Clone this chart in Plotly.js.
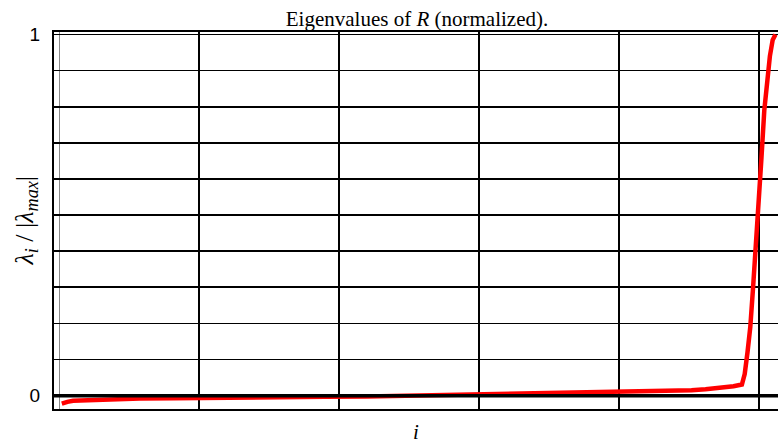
<!DOCTYPE html>
<html>
<head>
<meta charset="utf-8">
<script src="https://cdn.plot.ly/plotly-3.0.1.min.js"></script>
<style>
  html, body { margin: 0; padding: 0; overflow: hidden; background: #fff; }
  #chart { width: 778px; height: 444px; }
</style>
</head>
<body>
<div id="chart"></div>
<script>
// Sorted eigenvalues of R, each divided by |lambda_max|
const eigIndex = [1, 2, 3, 5, 8, 12, 17, 29, 41, 65, 86, 95, 110, 125, 140, 160, 180, 195, 200, 212,
                  221, 226, 231, 235, 238, 241, 244, 245, 246, 247, 248, 249, 250, 251, 252, 253, 254, 255, 256];
const eigNorm  = [-0.022, -0.019, -0.017, -0.014, -0.013, -0.012, -0.010, -0.008, -0.007, -0.004, -0.004, -0.003, -0.002, 0.000,
                  0.003, 0.005, 0.007, 0.009, 0.010, 0.011, 0.013, 0.015, 0.018, 0.020, 0.022, 0.026, 0.031,
                  0.06, 0.12, 0.19, 0.30, 0.41, 0.53, 0.66, 0.79, 0.88, 0.94, 0.985, 1.0];

// Labelled y ticks at the ends, with a grid line every 0.1; x grid every 50
const yTickVals = [0, 1];
const yTickText = ['0', '1'];
const yGridStep = 0.1;
const xTickVals = [50, 100, 150, 200, 250];
const xEdgeGrid = [0];

const trace = {
  x: eigIndex,
  y: eigNorm,
  type: 'scatter',
  mode: 'lines',
  line: { color: '#ff0000', width: 4.5 },
  hoverinfo: 'skip'
};

const serif = 'Liberation Serif, DejaVu Serif, serif';

const layout = {
  width: 778,
  height: 444,
  margin: { l: 54, r: 0, t: 32, b: 35 },
  paper_bgcolor: '#ffffff',
  plot_bgcolor: '#ffffff',
  showlegend: false,
  title: {
    text: 'Eigenvalues of <i>R</i> (normalized).',
    font: { family: serif, size: 21, color: '#000' },
    x: 0.536, xanchor: 'center', xref: 'container',
    y: 0.958, yanchor: 'middle', yref: 'container'
  },
  xaxis: {
    range: [-1.79, 256.9],
    tickvals: xTickVals,
    showticklabels: false,
    ticks: '',
    showgrid: true,
    gridcolor: '#000',
    gridwidth: 1.7,
    minor: { tickvals: xEdgeGrid, showgrid: true, gridcolor: '#8a8a8a', gridwidth: 1, ticks: '' },
    zeroline: false,
    showline: true,
    linecolor: '#000',
    linewidth: 2,
    mirror: true,
    title: {
      text: '<i>i</i>',
      font: { family: serif, size: 21, color: '#000' },
      standoff: 14
    }
  },
  yaxis: {
    range: [-0.0369, 1.007],
    tickvals: yTickVals,
    ticktext: yTickText,
    ticks: '',
    ticklabelstandoff: 8,
    tickfont: { family: 'Liberation Sans, Arial, sans-serif', size: 19, color: '#000' },
    showgrid: true,
    gridcolor: '#000',
    gridwidth: 1.7,
    minor: { dtick: yGridStep, tick0: 0, showgrid: true, gridcolor: '#000', gridwidth: 1.7, ticks: '' },
    zeroline: false,
    showline: true,
    linecolor: '#000',
    linewidth: 2,
    mirror: false
  },
  annotations: [
    {
      text: '<i>λ<sub>i</sub></i> / |<i>λ<sub>max</sub></i>|',
      font: { family: serif, size: 26, color: '#000' },
      textangle: -90,
      xref: 'paper', yref: 'paper',
      x: -0.04, y: 0.5,
      xanchor: 'center', yanchor: 'middle',
      showarrow: false
    }
  ],
  shapes: [
    {
      type: 'line', xref: 'paper', yref: 'y',
      x0: 0, x1: 1, y0: 0, y1: 0,
      line: { color: '#000', width: 3.5 },
      layer: 'above'
    }
  ]
};

Plotly.newPlot('chart', [trace], layout, { displayModeBar: false, staticPlot: true });
</script>
</body>
</html>
